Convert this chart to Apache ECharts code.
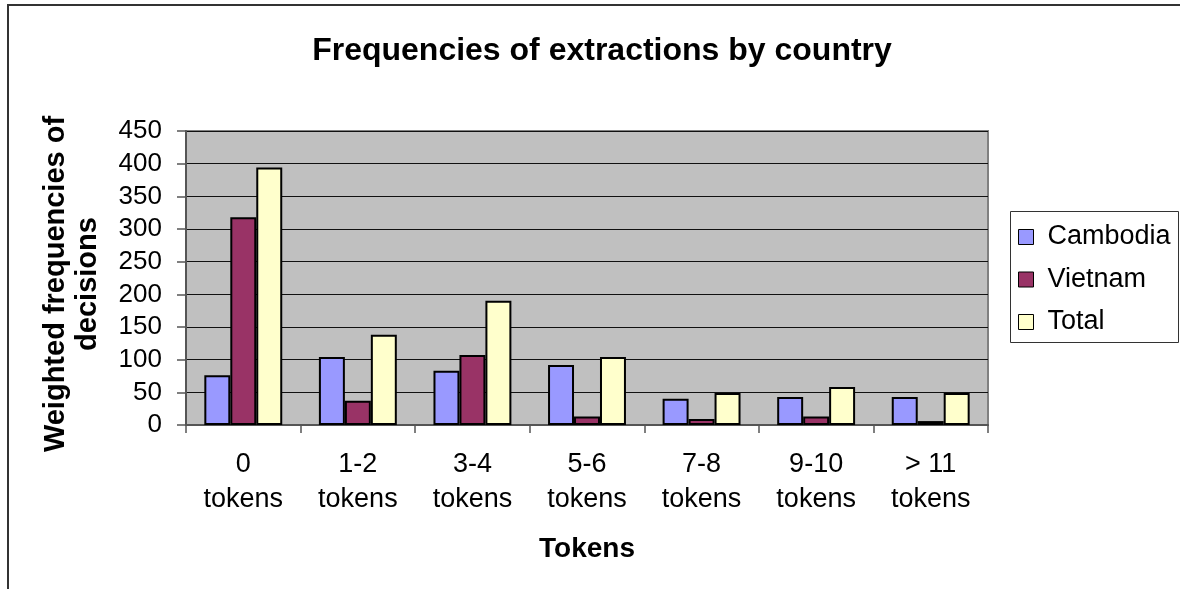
<!DOCTYPE html>
<html>
<head>
<meta charset="utf-8">
<title>Frequencies of extractions by country</title>
<script src="https://cdn.jsdelivr.net/npm/echarts@6/dist/echarts.min.js"></script>
<style>
  html, body { margin: 0; padding: 0; background: #ffffff; }
  #chart { width: 1180px; height: 589px; }
</style>
</head>
<body>
<div id="chart"></div>
<script>
// Token-count buckets along the category axis
const categories = ['0\ntokens', '1-2\ntokens', '3-4\ntokens', '5-6\ntokens', '7-8\ntokens', '9-10\ntokens', '> 11\ntokens'];

// Weighted frequencies of decisions per bucket
const cambodia = [76, 104, 83, 92, 40, 43, 43];
const vietnam  = [318, 37, 107, 13, 9, 13, 6];
const total    = [394, 138, 190, 104, 49, 58, 49];

const seriesNames = ['Cambodia', 'Vietnam', 'Total'];
const seriesData = [cambodia, vietnam, total];
const seriesColors = ['#9999FF', '#993366', '#FFFFCC'];

const FONT = "'Liberation Sans', Arial, Helvetica, sans-serif";

const chart = echarts.init(document.getElementById('chart'), null, { renderer: 'canvas' });

chart.setOption({
  animation: false,
  backgroundColor: '#ffffff',
  textStyle: { fontFamily: FONT },
  title: {
    text: 'Frequencies of extractions by country',
    left: 597,
    textAlign: 'center',
    top: 30,
    textStyle: { fontFamily: FONT, fontSize: 32, fontWeight: 'bold', color: '#000' }
  },
  graphic: [
    // outer chart frame
    {
      type: 'rect', silent: true, z: 0,
      shape: { x: 8, y: 5, width: 1200, height: 620 },
      style: { fill: null, stroke: '#333333', lineWidth: 2 }
    },
    // legend frame
    {
      type: 'rect', silent: true, z: 0,
      shape: { x: 1010.5, y: 211.5, width: 168, height: 131 },
      style: { fill: '#ffffff', stroke: '#333333', lineWidth: 1 }
    }
  ],
  legend: {
    orient: 'vertical',
    left: 1018,
    top: 223,
    padding: 0,
    itemWidth: 15,
    itemHeight: 15,
    itemGap: 14.5,
    icon: 'rect',
    itemStyle: { borderColor: '#000', borderWidth: 1 },
    textStyle: { fontFamily: FONT, fontSize: 27, color: '#000', lineHeight: 28, padding: [0, 0, 0, 9] },
    data: seriesNames
  },
  grid: {
    left: 186,
    top: 131,
    right: 192,
    bottom: 164,
    show: true,
    backgroundColor: '#C0C0C0',
    borderColor: '#808080',
    borderWidth: 2
  },
  xAxis: {
    type: 'category',
    data: categories,
    boundaryGap: true,
    axisLine: { show: true, lineStyle: { color: '#555555', width: 2 } },
    axisTick: { show: true, alignWithLabel: false, length: 8, lineStyle: { color: '#555555', width: 1.5 } },
    axisLabel: { fontFamily: FONT, fontSize: 27, color: '#000', lineHeight: 35, margin: 22, interval: 0 },
    name: 'Tokens',
    nameLocation: 'middle',
    nameGap: 110,
    nameTextStyle: { fontFamily: FONT, fontSize: 28, fontWeight: 'bold', color: '#000' }
  },
  yAxis: {
    type: 'value',
    min: 0,
    max: 450,
    interval: 50,
    axisLine: { show: true, lineStyle: { color: '#555555', width: 2 } },
    axisTick: { show: true, length: 9, lineStyle: { color: '#555555', width: 1.5 } },
    axisLabel: { fontFamily: FONT, fontSize: 26, color: '#000', margin: 24 },
    splitLine: { show: true, lineStyle: { color: '#111', width: 1.2 } },
    name: 'Weighted frequencies of\ndecisions',
    nameLocation: 'middle',
    nameGap: 82,
    nameRotate: 90,
    nameTextStyle: { fontFamily: FONT, fontSize: 29, fontWeight: 'bold', color: '#000', lineHeight: 32, padding: [0, 12, 0, 0] }
  },
  series: seriesNames.map((name, i) => ({
    name: name,
    type: 'bar',
    data: seriesData[i],
    barGap: '0%',
    barCategoryGap: '32%',
    itemStyle: { color: seriesColors[i], borderColor: '#000', borderWidth: 2 }
  }))
});
</script>
</body>
</html>
